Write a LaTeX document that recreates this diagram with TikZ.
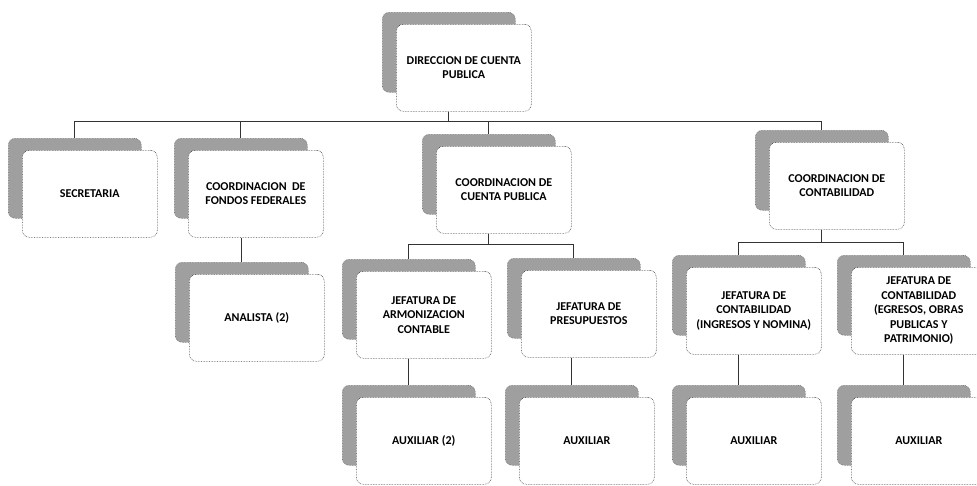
\documentclass[tikz,border=0pt]{standalone}
\usepackage{fontspec}
\setmainfont{Carlito}
\usetikzlibrary{positioning}
\tikzset{>=stealth,node distance=2cm}
\tikzset{front/.style={draw=black!75,densely dotted,line width=0.6pt,fill=white,
    rounded corners=7pt,minimum width=135pt,minimum height=87pt,inner sep=2pt,
    align=center,font=\fontsize{12}{14.5}\selectfont\bfseries}}
\tikzset{back/.style={draw=black!60,densely dotted,line width=0.6pt,fill=gray!75,
    rounded corners=7pt,minimum width=133pt,minimum height=80pt,anchor=north west}}
\tikzset{link/.style={draw=black!80,line width=0.7pt}}
% a card: name, corner of the grey sheet, text
\newcommand{\orgcard}[3]{%
    \node[back] (#1-b) at #2 {};
    \node[front, below right=12pt and 14pt of #1-b.north west] (#1) {#3};
}

\begin{document}
\begin{tikzpicture}[x=1pt,y=-1pt]
                \useasboundingbox (0,0) rectangle (977,485);
                \orgcard{dcp}{(382,12)}{DIRECCION DE CUENTA\\PUBLICA}
                \orgcard{sec}{(8,138)}{SECRETARIA}
                \orgcard{fon}{(174,138)}{COORDINACION\ \ DE\\FONDOS FEDERALES}
                \orgcard{ccp}{(422,134)}{COORDINACION DE\\CUENTA PUBLICA}
                \orgcard{cco}{(755,130)}{COORDINACION DE\\CONTABILIDAD}
                \orgcard{ana}{(175,262)}{ANALISTA (2)}
                \orgcard{arm}{(342,259)}{JEFATURA DE\\ARMONIZACION\\CONTABLE}
                \orgcard{pre}{(507,258)}{JEFATURA DE\\PRESUPUESTOS}
                \orgcard{jci}{(672,255)}{JEFATURA DE\\CONTABILIDAD\\(INGRESOS Y NOMINA)}
                \orgcard{jce}{(837,255)}{JEFATURA DE\\CONTABILIDAD\\(EGRESOS, OBRAS\\PUBLICAS Y\\PATRIMONIO)}
                \orgcard{au1}{(342,385)}{AUXILIAR (2)}
                \orgcard{au2}{(505,385)}{AUXILIAR}
                \orgcard{au3}{(672,385)}{AUXILIAR}
                \orgcard{au4}{(837,385)}{AUXILIAR}
                \coordinate (bus) at (0,121);
                \coordinate (bus1) at (0,244);
                \coordinate (bus2) at (0,242);
                \foreach \c in {sec,fon,ccp,cco}
                    \draw[link] (dcp-b |- dcp.south) -- (dcp-b |- bus) -| (\c-b.north);
                \foreach \c in {arm,pre}
                    \draw[link] (ccp-b |- ccp.south) -- (ccp-b |- bus1) -| (\c-b.north);
                \foreach \c in {jci,jce}
                    \draw[link] (cco-b |- cco.south) -- (cco-b |- bus2) -| (\c-b.north);
                \draw[link] (ana-b |- fon.south) -- (ana-b.north);
                \foreach \p/\q in {arm/au1,pre/au2,jci/au3,jce/au4}
                    \draw[link] (\q-b |- \p.south) -- (\q-b.north);
            \end{tikzpicture}
\end{document}
